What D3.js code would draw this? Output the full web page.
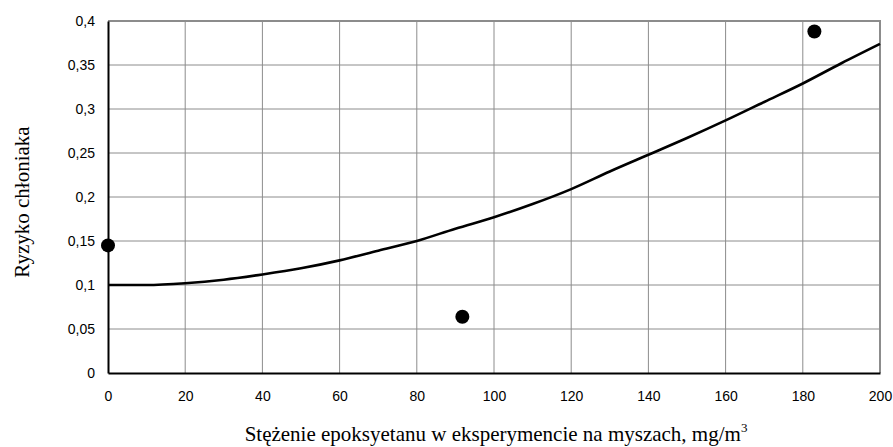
<!DOCTYPE html>
<html><head><meta charset="utf-8">
<script src="https://cdn.jsdelivr.net/npm/d3@7/dist/d3.min.js"></script>
<style>body{margin:0;background:#fff}svg{display:block}</style>
</head><body>
<svg id="c" width="893" height="447"></svg>
<script>
const curveX = [0,10,20,30,40,50,60,70,80,90,100,110,120,130,140,150,160,170,180,190,200];
const curveY = [0.1,0.1,0.102,0.106,0.112,0.119,0.128,0.139,0.15,0.164,0.177,0.192,0.209,0.229,0.248,0.267,0.287,0.308,0.329,0.352,0.374];
const pointX = [0,91.8,183];
const pointY = [0.145,0.064,0.388];
const xTicks = [0,20,40,60,80,100,120,140,160,180,200];
const yTicks = [0,0.05,0.1,0.15,0.2,0.25,0.3,0.35,0.4];
const xTitle = "Stężenie epoksyetanu w eksperymencie na myszach, mg/m";
const yTitle = "Ryzyko chłoniaka";

const svg = d3.select("#c");
const L=108,R=880,T=21,B=373;
const x = d3.scaleLinear().domain([0,200]).range([L,R]);
const y = d3.scaleLinear().domain([0,0.4]).range([B,T]);
const fmt = d => String(d).replace(".", ",");

svg.append("g").selectAll("line").data(xTicks.slice(1,-1)).join("line")
  .attr("x1",d=>x(d)).attr("x2",d=>x(d)).attr("y1",T).attr("y2",B)
  .attr("stroke","#8c8c8c").attr("stroke-width",1);
svg.append("g").selectAll("line").data(yTicks.slice(1,-1)).join("line")
  .attr("x1",L).attr("x2",R).attr("y1",d=>y(d)).attr("y2",d=>y(d))
  .attr("stroke","#8c8c8c").attr("stroke-width",1);
svg.append("path").attr("d",`M${L},${T}H${R}V${B}`).attr("fill","none")
  .attr("stroke","#8c8c8c").attr("stroke-width",2);

const xa = svg.append("g").attr("transform",`translate(0,${B})`)
  .call(d3.axisBottom(x).tickValues(xTicks).tickSize(0).tickPadding(18).tickFormat(d=>d));
const ya = svg.append("g").attr("transform",`translate(${L},0)`)
  .call(d3.axisLeft(y).tickValues(yTicks).tickSize(0).tickPadding(13).tickFormat(fmt));
[xa,ya].forEach(a=>{
  a.select(".domain").attr("stroke","#000").attr("stroke-width",2);
  a.selectAll("text").attr("font-family","Liberation Sans, Arial, sans-serif").attr("font-size",14).attr("fill","#000");
});

svg.append("path").datum(curveX.map((d,i)=>[d,curveY[i]]))
  .attr("d",d3.line().x(d=>x(d[0])).y(d=>y(d[1])).curve(d3.curveMonotoneX))
  .attr("fill","none").attr("stroke","#000").attr("stroke-width",2.6);

svg.append("g").selectAll("circle").data(pointX.map((d,i)=>[d,pointY[i]])).join("circle")
  .attr("cx",d=>x(d[0])).attr("cy",d=>y(d[1])).attr("r",7).attr("fill","#000");

const xt = svg.append("text").attr("x",496).attr("y",441).attr("text-anchor","middle")
  .attr("font-family","Liberation Serif, Times New Roman, serif").attr("font-size",21).attr("fill","#000")
  .text(xTitle);
xt.append("tspan").attr("dy",-9).attr("font-size",13).text("3");
svg.append("text").attr("transform","translate(29,202) rotate(-90)").attr("text-anchor","middle")
  .attr("font-family","Liberation Serif, Times New Roman, serif").attr("font-size",21).attr("fill","#000")
  .text(yTitle);
</script>
</body></html>
